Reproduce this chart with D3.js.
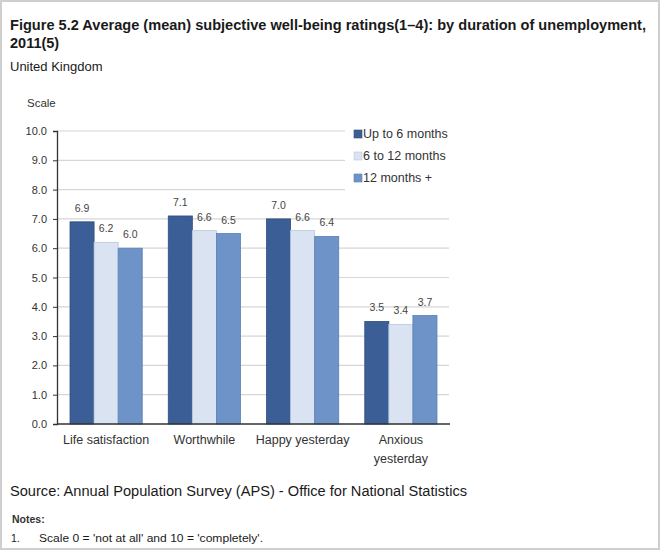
<!DOCTYPE html>
<html><head><meta charset="utf-8">
<script src="https://cdn.jsdelivr.net/npm/d3@7"></script>
<style>body{margin:0;background:#fff}svg{display:block}</style>
</head><body><svg id="c" width="660" height="550"></svg>
<script>
const categories = ["Life satisfaction", "Worthwhile", "Happy yesterday", "Anxious yesterday"];
const seriesNames = ["Up to 6 months", "6 to 12 months", "12 months +"];
const upTo6 = [6.9, 7.1, 7.0, 3.5];
const sixTo12 = [6.2, 6.6, 6.6, 3.4];
const twelvePlus = [6.0, 6.5, 6.4, 3.7];
const yTicks = [0,1,2,3,4,5,6,7,8,9,10];
const colors = ["#3b5e96", "#dae3f1", "#6d93c8"];
const strokes = ["#2f4d7c", "#b9c7dd", "#5a7fb3"];

const series = [upTo6, sixTo12, twelvePlus];
const svg = d3.select("#c");
const font = "Liberation Sans, Arial, sans-serif";

svg.append("rect").attr("x",1).attr("y",1).attr("width",658).attr("height",548)
  .attr("fill","#fff").attr("stroke","#cfcfcf").attr("stroke-width",2);

// titles
svg.append("text").attr("x",10).attr("y",30).attr("font-family",font).attr("font-weight","bold")
  .attr("font-size",14.5).attr("fill","#1a1a1a")
  .attr("textLength",636).attr("lengthAdjust","spacingAndGlyphs")
  .text("Figure 5.2 Average (mean) subjective well-being ratings(1\u20134): by duration of unemployment,");
svg.append("text").attr("x",10).attr("y",48).attr("font-family",font).attr("font-weight","bold")
  .attr("font-size",14.5).attr("fill","#1a1a1a").text("2011(5)");
svg.append("text").attr("x",10).attr("y",71).attr("font-family",font)
  .attr("font-size",13).attr("fill","#1a1a1a").text("United Kingdom");
svg.append("text").attr("x",27).attr("y",107).attr("font-family",font)
  .attr("font-size",11.5).attr("fill","#333").text("Scale");

const x0 = d3.scaleBand().domain(categories).range([57,450]).paddingInner(0.265).paddingOuter(0.1325);
const x1 = d3.scaleBand().domain(d3.range(3)).range([0,x0.bandwidth()]);
const y = d3.scaleLinear().domain([0,10]).range([424,131]);

// gridlines
const g = svg.append("g");
g.selectAll("line.grid").data(yTicks.filter(t=>t>0)).join("line")
  .attr("x1",57).attr("x2",d=>d>=8?345:449)
  .attr("y1",d=>y(d)).attr("y2",d=>y(d))
  .attr("stroke","#d6d6d6").attr("stroke-width",1.2);

// y axis
const yAxis = d3.axisLeft(y).tickValues(yTicks).tickFormat(d3.format(".1f")).tickSize(4);
const ya = svg.append("g").attr("transform","translate(57,0)").call(yAxis);
ya.select(".domain").attr("stroke","#333").attr("stroke-width",1.3);
ya.selectAll(".tick line").attr("stroke","#333");
ya.selectAll(".tick text").attr("font-family",font).attr("font-size",11).attr("fill","#333").attr("x",-10);

// bars
categories.forEach((c,ci)=>{
  series.forEach((s,si)=>{
    const v = s[ci];
    svg.append("rect").attr("x",x0(c)+x1(si)).attr("y",y(v))
      .attr("width",x1.bandwidth()).attr("height",y(0)-y(v))
      .attr("fill",colors[si]).attr("stroke",strokes[si]).attr("stroke-width",0.8);
    svg.append("text").attr("x",x0(c)+x1(si)+x1.bandwidth()/2).attr("y",y(v)-10)
      .attr("text-anchor","middle").attr("font-family",font).attr("font-size",10.5)
      .attr("fill","#444").text(v.toFixed(1));
  });
});

// x axis baseline
svg.append("line").attr("x1",57).attr("x2",450).attr("y1",y(0)).attr("y2",y(0))
  .attr("stroke","#333").attr("stroke-width",1.3);

// category labels
const catLines = {"Anxious yesterday":["Anxious","yesterday"]};
categories.forEach(c=>{
  const lines = catLines[c] || [c];
  lines.forEach((l,i)=>{
    svg.append("text").attr("x",x0(c)+x0.bandwidth()/2).attr("y",444+i*19)
      .attr("text-anchor","middle").attr("font-family",font).attr("font-size",12.5)
      .attr("fill","#333").text(l);
  });
});

// legend
seriesNames.forEach((n,i)=>{
  const yy = 134 + i*22;
  svg.append("rect").attr("x",354).attr("y",yy-4).attr("width",8).attr("height",8)
    .attr("fill",colors[i]).attr("stroke",strokes[i]).attr("stroke-width",0.6);
  svg.append("text").attr("x",363).attr("y",yy+4).attr("font-family",font).attr("font-size",12.5)
    .attr("fill","#333").text(n);
});

// source and notes
svg.append("text").attr("x",10).attr("y",496).attr("font-family",font).attr("font-size",14)
  .attr("fill","#1a1a1a").attr("textLength",457).attr("lengthAdjust","spacingAndGlyphs")
  .text("Source: Annual Population Survey (APS) - Office for National Statistics");
svg.append("text").attr("x",12).attr("y",523).attr("font-family",font).attr("font-size",10.5)
  .attr("font-weight","bold").attr("fill","#333").text("Notes:");
svg.append("text").attr("x",11).attr("y",542).attr("font-family",font).attr("font-size",10.5)
  .attr("fill","#1a1a1a").text("1.");
svg.append("text").attr("x",39).attr("y",542).attr("font-family",font).attr("font-size",10.5)
  .attr("fill","#1a1a1a").attr("textLength",224).attr("lengthAdjust","spacingAndGlyphs")
  .text("Scale 0 = 'not at all' and 10 = 'completely'.");
</script></body></html>
